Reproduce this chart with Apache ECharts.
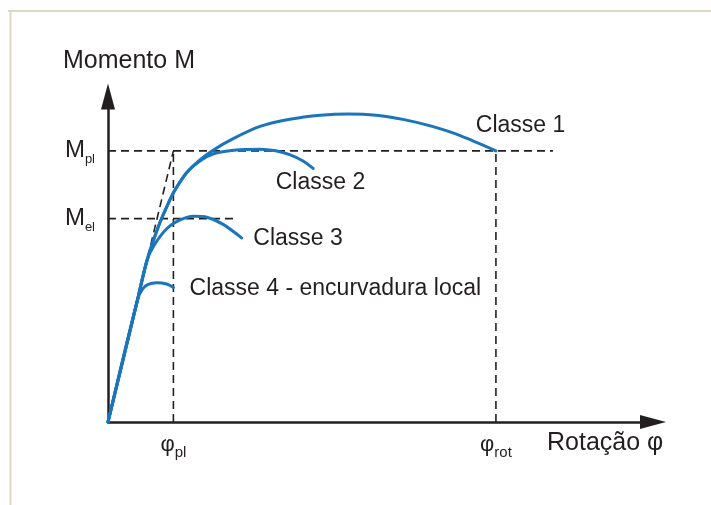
<!DOCTYPE html>
<html>
<head>
<meta charset="utf-8">
<script src="https://cdn.jsdelivr.net/npm/echarts@6/dist/echarts.min.js"></script>
<style>
  html, body { margin: 0; padding: 0; background: #ffffff; }
  #chart { width: 711px; height: 505px; }
</style>
</head>
<body>
<div id="chart"></div>
<script>
// Characteristic rotations and moments (axis units)
const phiPl = 1.17;
const phiRot = 6.94;
const mPl = 8.0;
const mEl = 6.0;
const mPlDashEnd = 7.96;
const mElDashEnd = 2.24;

// Moment-rotation curves for the four cross-section classes
const classe1 = [[0, 0], [0.53, 3.62], [0.70, 4.78], [0.90, 5.76], [1.05, 6.345], [1.18, 6.79],
  [1.41, 7.36], [1.65, 7.74], [1.88, 8.02], [2.24, 8.36], [2.72, 8.72], [3.25, 8.93],
  [3.80, 9.05], [4.30, 9.09], [4.80, 9.05], [5.30, 8.92], [5.80, 8.72], [6.30, 8.45],
  [phiRot, mPl]];
const classe2 = [[0, 0], [0.53, 3.62], [0.70, 4.78], [0.90, 5.76], [1.05, 6.345], [1.18, 6.79],
  [1.41, 7.36], [1.65, 7.71], [1.90, 7.92], [2.25, 8.02], [2.72, 8.05], [3.00, 8.00],
  [3.26, 7.88], [3.49, 7.70], [3.67, 7.48]];
const classe3 = [[0, 0], [0.53, 3.62], [0.70, 4.78], [0.82, 5.20], [1.05, 5.70], [1.29, 5.96],
  [1.53, 6.07], [1.77, 6.04], [2.06, 5.83], [2.39, 5.43]];
const classe4 = [[0, 0], [0.53, 3.62], [0.62, 3.93], [0.72, 4.06], [0.87, 4.11], [1.05, 4.07],
  [1.17, 3.97]];

// Curve captions and their anchor points (left edge, vertical middle)
const classNames = ['Classe 1', 'Classe 2', 'Classe 3', 'Classe 4 - encurvadura local'];
const classLabelAt = [[6.58, 8.75], [3.00, 7.06], [2.60, 5.41], [1.46, 3.93]];

// Axis titles
const yTitle = 'Momento M';
const xTitle = 'Rotação φ';

const FONT = "'Liberation Sans', Arial, Helvetica, sans-serif";
const INK = '#231f20';
const BLUE = '#1b75bc';

const chart = echarts.init(document.getElementById('chart'), null, { renderer: 'canvas' });

function dashed(data) {
  return {
    type: 'line', data: data, symbol: 'none', silent: true, z: 2,
    lineStyle: { color: INK, width: 1.6, type: [8, 5] }
  };
}
function curve(data) {
  return {
    type: 'line', data: data, symbol: 'none', silent: true, z: 3,
    smooth: 0.3,
    lineStyle: { color: BLUE, width: 3, cap: 'round', join: 'round' }
  };
}

const frame = [
  { type: 'line', shape: { x1: 8, y1: 11, x2: 711, y2: 11 }, style: { stroke: '#ddd7c7', lineWidth: 2 }, silent: true },
  { type: 'line', shape: { x1: 10.5, y1: 11, x2: 10.5, y2: 505 }, style: { stroke: '#ddd7c7', lineWidth: 2 }, silent: true },
  { type: 'text', left: 63, top: 49, style: { text: yTitle, font: '25px ' + FONT, fill: INK } },
  { type: 'text', left: 547, top: 431, style: { text: xTitle, font: '25px ' + FONT, fill: INK } }
];

const option = {
  animation: false,
  backgroundColor: '#ffffff',
  textStyle: { fontFamily: FONT },
  grid: { left: 108, top: 96.6, width: 545, height: 325.4 },
  xAxis: {
    type: 'value', min: 0, max: 9.75,
    splitLine: { show: false },
    axisTick: { show: false },
    axisLine: {
      lineStyle: { color: INK, width: 2.5 },
      symbol: ['none', 'triangle'], symbolSize: [14, 26]
    },
    axisLabel: {
      customValues: [phiPl, phiRot],
      margin: 12,
      formatter: v => v === phiPl ? '{p|φ}{s|pl}' : '{p|φ}{s|rot}',
      rich: {
        p: { fontFamily: FONT, fontSize: 22, color: INK, verticalAlign: 'top', lineHeight: 22 },
        s: { fontFamily: FONT, fontSize: 15, color: INK, verticalAlign: 'top', lineHeight: 15, padding: [11, 0, 0, 0] }
      }
    }
  },
  yAxis: {
    type: 'value', min: 0, max: 9.6,
    splitLine: { show: false },
    axisTick: { show: false },
    axisLine: {
      lineStyle: { color: INK, width: 2.5 },
      symbol: ['none', 'triangle'], symbolSize: [14, 26]
    },
    axisLabel: {
      customValues: [mEl, mPl],
      margin: 13,
      formatter: v => v === mPl ? '{m|M}{s|pl}' : '{m|M}{s|el}',
      rich: {
        m: { fontFamily: FONT, fontSize: 24, color: INK, verticalAlign: 'top', lineHeight: 24 },
        s: { fontFamily: FONT, fontSize: 13, color: INK, verticalAlign: 'top', lineHeight: 13, padding: [14, 0, 0, 0] }
      }
    }
  },
  graphic: frame,
  series: [
    dashed([[0, mPl], [mPlDashEnd, mPl]]),
    dashed([[0, mEl], [mElDashEnd, mEl]]),
    dashed([[phiPl, 0], [phiPl, mPl]]),
    dashed([[phiRot, 0], [phiRot, mPl]]),
    dashed([[0, 0], [phiPl, mPl]]),
    curve(classe4),
    curve(classe3),
    curve(classe2),
    curve(classe1)
  ]
};

chart.setOption(option);

// Curve captions placed through the chart's own coordinate system
const captions = classNames.map((name, i) => {
  const p = chart.convertToPixel({ gridIndex: 0 }, classLabelAt[i]);
  return {
    type: 'text', x: p[0], y: p[1], z: 10, silent: true,
    style: { text: name, font: '23px ' + FONT, fill: INK, align: 'left', verticalAlign: 'middle' }
  };
});
chart.setOption({ graphic: frame.concat(captions) });
</script>
</body>
</html>
